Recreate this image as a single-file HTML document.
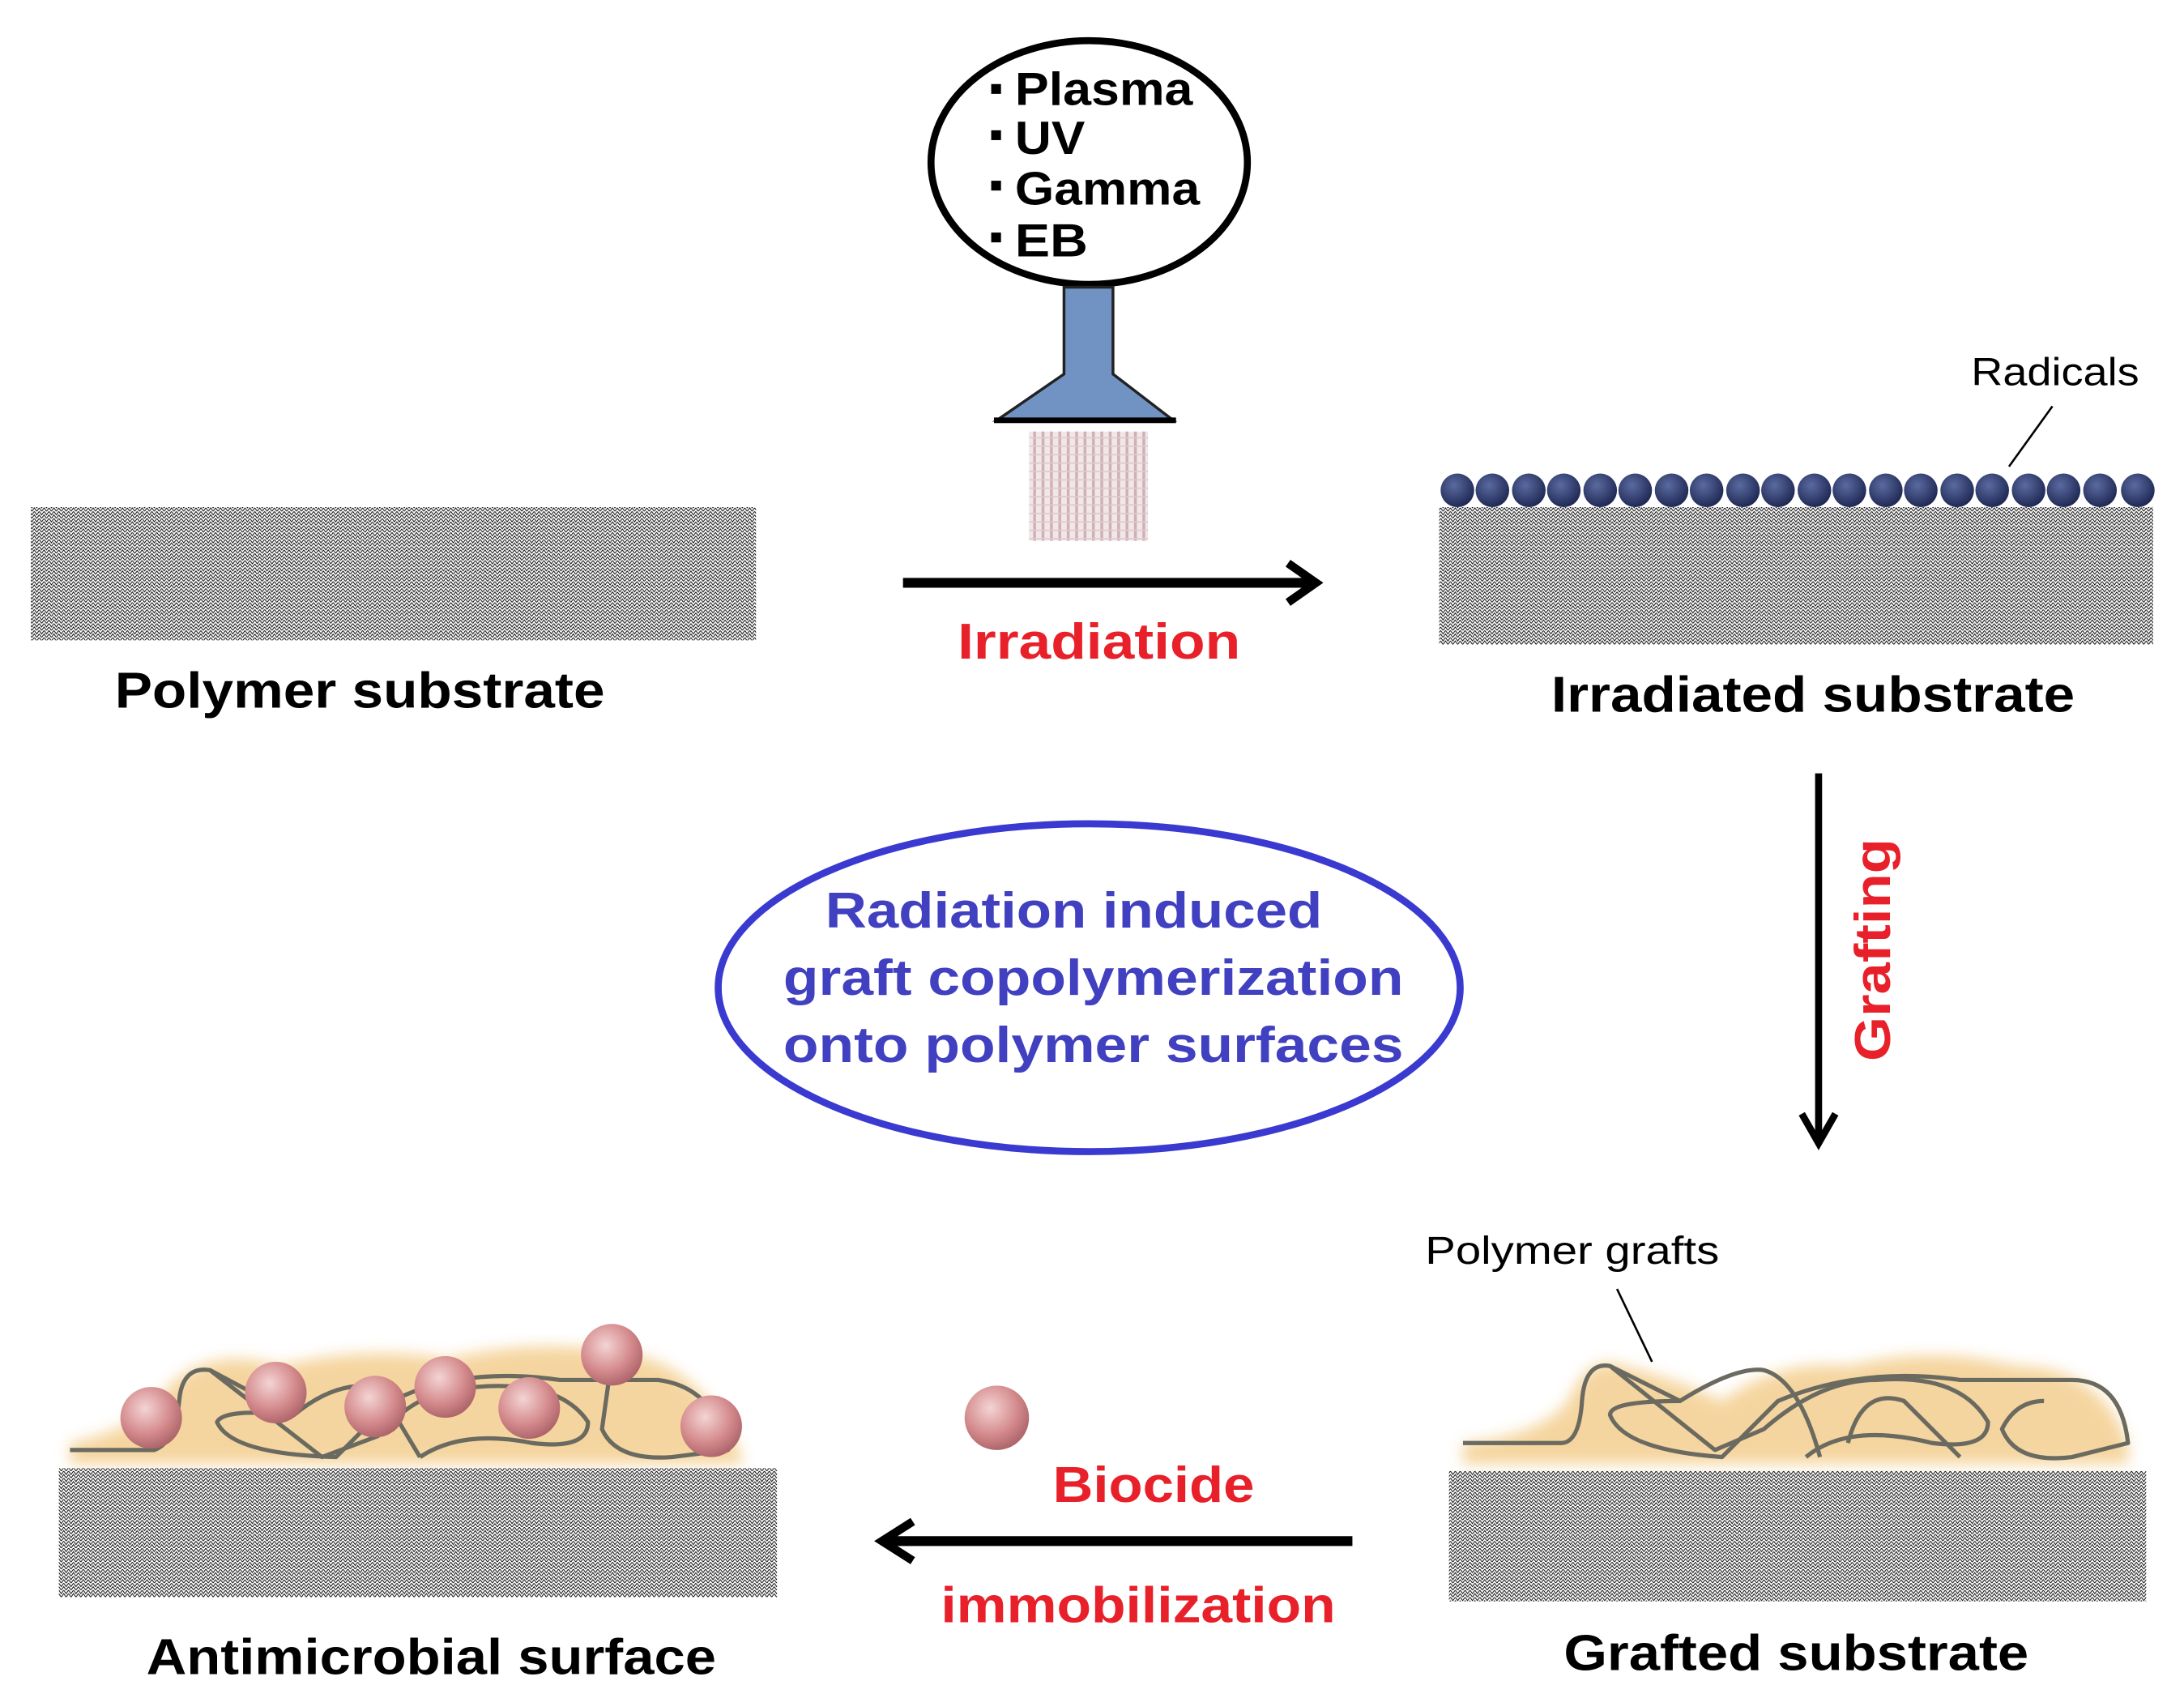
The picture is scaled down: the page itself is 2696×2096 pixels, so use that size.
<!DOCTYPE html>
<html><head><meta charset="utf-8"><style>html,body{margin:0;padding:0;background:#fff}svg{display:block}</style></head><body>
<svg width="2696" height="2096" viewBox="0 0 1560 1212" preserveAspectRatio="none" xmlns="http://www.w3.org/2000/svg" font-family="Liberation Sans, Arial, sans-serif">
<defs>
<pattern id="h" width="7" height="5" patternUnits="userSpaceOnUse">
<rect width="7" height="5" fill="#fff"/>
<path d="M0 0 L1.75 2.5 L3.5 0 L5.25 2.5 L7 0 M0 2.5 L1.75 5 L3.5 2.5 L5.25 5 L7 2.5" stroke="#000" stroke-width="0.55" fill="none"/>
</pattern>
<pattern id="beam" width="6" height="6" patternUnits="userSpaceOnUse">
<rect width="6" height="6" fill="#efe4e6"/>
<rect width="2" height="6" fill="#c9a7ad"/>
<rect width="6" height="1" fill="#dcc4c8"/>
</pattern>
<radialGradient id="ball" cx="0.4" cy="0.35" r="0.7">
<stop offset="0" stop-color="#f4d4d4"/><stop offset="0.6" stop-color="#d48a8c"/><stop offset="1" stop-color="#a86066"/>
</radialGradient>
<radialGradient id="rad" cx="0.4" cy="0.35" r="0.7">
<stop offset="0" stop-color="#5a6aa0"/><stop offset="1" stop-color="#1c2550"/>
</radialGradient>
<filter id="blur"><feGaussianBlur stdDeviation="5"/></filter>
</defs>

<ellipse cx="778" cy="116" rx="113" ry="87" fill="#fff" stroke="#000" stroke-width="5"/>
<g font-weight="bold" font-size="33" fill="#000">
<rect x="708" y="60" width="7" height="7"/><text x="725" y="75" textLength="127" lengthAdjust="spacingAndGlyphs">Plasma</text>
<rect x="708" y="93" width="7" height="7"/><text x="725" y="110" textLength="50" lengthAdjust="spacingAndGlyphs">UV</text>
<rect x="708" y="129" width="7" height="7"/><text x="725" y="146" textLength="132" lengthAdjust="spacingAndGlyphs">Gamma</text>
<rect x="708" y="166" width="7" height="7"/><text x="725" y="183" textLength="52" lengthAdjust="spacingAndGlyphs">EB</text>
</g>
<path d="M760 205 H795 V267 L838 300 H712 L760 267 Z" fill="#7093c4" stroke="#222" stroke-width="2"/>
<rect x="710" y="298" width="130" height="4" fill="#000"/>
<rect x="735" y="308" width="85" height="78" fill="url(#beam)" opacity="0.9"/>

<rect x="22" y="362" width="518" height="95" fill="url(#h)"/>
<rect x="1028" y="362" width="510" height="98" fill="url(#h)"/>
<g fill="url(#rad)">
<circle cx="1041" cy="350" r="12"/><circle cx="1066" cy="350" r="12"/><circle cx="1092" cy="350" r="12"/><circle cx="1117" cy="350" r="12"/><circle cx="1143" cy="350" r="12"/><circle cx="1168" cy="350" r="12"/><circle cx="1194" cy="350" r="12"/><circle cx="1219" cy="350" r="12"/><circle cx="1245" cy="350" r="12"/><circle cx="1270" cy="350" r="12"/><circle cx="1296" cy="350" r="12"/><circle cx="1321" cy="350" r="12"/><circle cx="1347" cy="350" r="12"/><circle cx="1372" cy="350" r="12"/><circle cx="1398" cy="350" r="12"/><circle cx="1423" cy="350" r="12"/><circle cx="1449" cy="350" r="12"/><circle cx="1474" cy="350" r="12"/><circle cx="1500" cy="350" r="12"/><circle cx="1527" cy="350" r="12"/>
</g>
<text x="1408" y="275" font-size="28" textLength="120" lengthAdjust="spacingAndGlyphs">Radicals</text>
<line x1="1466" y1="290" x2="1435" y2="333" stroke="#000" stroke-width="1.5"/>

<line x1="645" y1="416" x2="936" y2="416" stroke="#000" stroke-width="7"/>
<path d="M920 402 L940 416 L920 430" fill="none" stroke="#000" stroke-width="6"/>
<text x="785" y="470" font-size="36" font-weight="bold" fill="#e8202a" text-anchor="middle" textLength="202" lengthAdjust="spacingAndGlyphs">Irradiation</text>

<g font-size="36" font-weight="bold" fill="#000" text-anchor="middle">
<text x="257" y="505" textLength="350" lengthAdjust="spacingAndGlyphs">Polymer substrate</text>
<text x="1295" y="508" textLength="374" lengthAdjust="spacingAndGlyphs">Irradiated substrate</text>
<text x="308" y="1195" textLength="407" lengthAdjust="spacingAndGlyphs">Antimicrobial surface</text>
<text x="1283" y="1192" textLength="332" lengthAdjust="spacingAndGlyphs">Grafted substrate</text>
</g>

<line x1="1299" y1="552" x2="1299" y2="812" stroke="#000" stroke-width="5"/>
<path d="M1287 795 L1299 816 L1311 795" fill="none" stroke="#000" stroke-width="5"/>
<text transform="translate(1350,678) rotate(-90)" font-size="36" font-weight="bold" fill="#e8202a" text-anchor="middle" textLength="159" lengthAdjust="spacingAndGlyphs">Grafting</text>

<ellipse cx="778" cy="705" rx="265" ry="117" fill="none" stroke="#3a3ad0" stroke-width="5"/>
<g font-size="36" font-weight="bold" fill="#4040c0" text-anchor="middle">
<text x="767" y="662" textLength="355" lengthAdjust="spacingAndGlyphs">Radiation induced</text>
<text x="781" y="710" textLength="443" lengthAdjust="spacingAndGlyphs">graft copolymerization</text>
<text x="781" y="758" textLength="443" lengthAdjust="spacingAndGlyphs">onto polymer surfaces</text>
</g>

<g filter="url(#blur)" opacity="0.75">
<path d="M1045 1030 Q1100 1025 1120 1000 Q1135 965 1160 975 Q1200 985 1230 1000 Q1270 970 1320 975 Q1380 960 1440 975 Q1500 975 1520 1030 L1520 1045 L1045 1045 Z" fill="#f2c880"/>
<path d="M50 1030 Q100 1020 120 990 Q150 960 200 975 Q260 960 320 970 Q380 955 440 965 Q500 970 530 1040 L530 1045 L50 1045Z" fill="#f2c880"/>
</g>
<g fill="none" stroke="#6a6a60" stroke-width="3" stroke-linejoin="round">
<path d="M1045 1030 H1115 Q1128 1030 1130 1000 Q1132 972 1150 975 L1200 1000 Q1240 975 1260 978 Q1285 985 1300 1040"/>
<path d="M1150 975 L1225 1035 L1260 1020 Q1300 985 1340 985 Q1400 980 1420 1015 Q1420 1035 1380 1030 Q1320 1015 1290 1040"/>
<path d="M1200 1000 Q1150 1000 1150 1010 Q1160 1035 1230 1040 L1270 1000 Q1330 975 1400 985 L1480 985 Q1515 985 1520 1030 L1480 1040 Q1440 1045 1430 1020 Q1440 1000 1460 1000"/>
<path d="M1320 1030 Q1330 990 1360 1000 L1400 1040"/>
</g>
<rect x="1035" y="1050" width="498" height="93" fill="url(#h)"/>
<text x="1018" y="902" font-size="28" textLength="210" lengthAdjust="spacingAndGlyphs">Polymer grafts</text>
<line x1="1155" y1="920" x2="1180" y2="972" stroke="#000" stroke-width="1.5"/>

<g fill="none" stroke="#6a6a60" stroke-width="3" stroke-linejoin="round">
<path d="M50 1035 H110 Q125 1030 128 1000 Q130 975 150 978 L210 1010 Q240 985 270 990 L300 1040"/>
<path d="M150 978 L230 1040 L270 1025 Q300 990 340 990 Q400 985 420 1015 Q420 1035 380 1030 Q330 1020 300 1040"/>
<path d="M210 1010 Q160 1005 155 1015 Q165 1038 240 1040 L280 1000 Q330 975 400 985 L470 985 Q510 990 520 1035 L480 1040 Q440 1043 430 1020 L437 970"/>
</g>
<rect x="42" y="1048" width="513" height="92" fill="url(#h)"/>
<g fill="url(#ball)">
<circle cx="108" cy="1012" r="22"/><circle cx="197" cy="994" r="22"/><circle cx="268" cy="1004" r="22"/><circle cx="318" cy="990" r="22"/><circle cx="378" cy="1005" r="22"/><circle cx="437" cy="967" r="22"/><circle cx="508" cy="1018" r="22"/><circle cx="712" cy="1012" r="23"/>
</g>

<line x1="634" y1="1100" x2="966" y2="1100" stroke="#000" stroke-width="7"/>
<path d="M652 1086 L630 1100 L652 1114" fill="none" stroke="#000" stroke-width="6"/>
<g font-size="36" font-weight="bold" fill="#e8202a" text-anchor="middle">
<text x="824" y="1072" textLength="144" lengthAdjust="spacingAndGlyphs">Biocide</text>
<text x="813" y="1158" textLength="282" lengthAdjust="spacingAndGlyphs">immobilization</text>
</g>
</svg>
</body></html>
